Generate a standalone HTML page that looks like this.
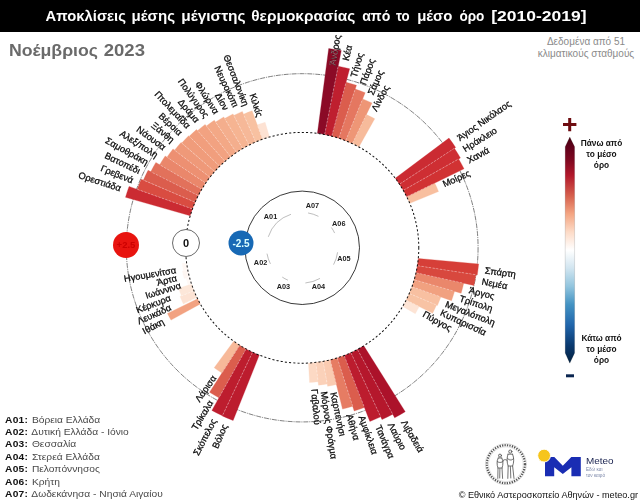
<!DOCTYPE html>
<html lang="el"><head><meta charset="utf-8"><title>Αποκλίσεις μέσης μέγιστης θερμοκρασίας</title>
<style>
html,body{margin:0;padding:0;background:#fff;}
body{width:640px;height:503px;position:relative;overflow:hidden;font-family:"Liberation Sans",sans-serif;}
#titlebar{position:absolute;left:0;top:0;width:640px;height:31.5px;background:#000;}
#title{position:absolute;left:45px;top:6.5px;color:#fff;font-weight:bold;font-size:14.7px;line-height:17px;white-space:nowrap;transform-origin:0 0;transform:scaleX(1.0836);}
#month{position:absolute;left:8.5px;top:39px;color:#6a6a6a;font-weight:bold;font-size:17.3px;line-height:20px;white-space:nowrap;transform-origin:0 0;transform:scaleX(1.043);}
#data,#legend,#footer{opacity:0.999;}
#data{position:absolute;left:530px;top:35.5px;width:112px;text-align:center;color:#8a8a8a;font-size:10px;line-height:12px;white-space:nowrap;}
#legend{position:absolute;left:5px;top:413.7px;font-size:9.6px;line-height:12.38px;color:#484848;white-space:nowrap;transform-origin:0 0;transform:scaleX(1.065);}
#legend b{color:#111;display:inline-block;width:22.6px;letter-spacing:0.25px;}
#footer{position:absolute;right:2px;top:489.3px;font-size:9.15px;line-height:12px;color:#111;white-space:nowrap;}
</style></head><body>
<div id="titlebar"></div>
<div id="data">Δεδομένα από 51<br>κλιματικούς σταθμούς</div>
<svg width="640" height="503" viewBox="0 0 640 503" style="position:absolute;left:0;top:0;opacity:0.999">
<g transform="translate(302.2 247.8) scale(1.005 0.995) translate(-302.2 -247.8)">
<circle cx="302.2" cy="247.8" r="175.0" fill="none" stroke="#3a3a3a" stroke-width="0.65" stroke-dasharray="5,0.9,1.1,0.9"/>
<circle cx="302.2" cy="247.8" r="57.0" fill="none" stroke="#222" stroke-width="0.9"/>
<path d="M269.64,136.46L265.32,121.68A131.40,131.40 0 0 0 257.47,124.25L262.72,138.73A116.00,116.00 0 0 1 269.64,136.46Z" fill="#fde2d3" stroke="#fde2d3" stroke-width="0.3"/>
<path d="M262.72,138.73L252.37,110.14A146.40,146.40 0 0 0 243.82,113.54L255.95,141.42A116.00,116.00 0 0 1 262.72,138.73Z" fill="#f8c1a1" stroke="#f8c1a1" stroke-width="0.3"/>
<path d="M255.95,141.42L242.63,110.79A149.40,149.40 0 0 0 234.14,114.80L249.36,144.54A116.00,116.00 0 0 1 255.95,141.42Z" fill="#f6b898" stroke="#f6b898" stroke-width="0.3"/>
<path d="M249.36,144.54L233.37,113.29A151.10,151.10 0 0 0 225.06,117.88L242.98,148.06A116.00,116.00 0 0 1 249.36,144.54Z" fill="#f6b492" stroke="#f6b492" stroke-width="0.3"/>
<path d="M242.98,148.06L224.14,116.33A152.90,152.90 0 0 0 216.04,121.49L236.83,151.97A116.00,116.00 0 0 1 242.98,148.06Z" fill="#f4ae8d" stroke="#f4ae8d" stroke-width="0.3"/>
<path d="M236.83,151.97L214.74,119.59A155.20,155.20 0 0 0 206.86,125.33L230.94,156.27A116.00,116.00 0 0 1 236.83,151.97Z" fill="#f3a886" stroke="#f3a886" stroke-width="0.3"/>
<path d="M230.94,156.27L205.63,123.76A157.20,157.20 0 0 0 198.04,130.06L225.34,160.92A116.00,116.00 0 0 1 230.94,156.27Z" fill="#f2a281" stroke="#f2a281" stroke-width="0.3"/>
<path d="M225.34,160.92L197.04,128.94A158.70,158.70 0 0 0 189.79,135.78L220.03,165.92A116.00,116.00 0 0 1 225.34,160.92Z" fill="#f19e7d" stroke="#f19e7d" stroke-width="0.3"/>
<path d="M220.03,165.92L189.22,135.21A159.50,159.50 0 0 0 182.37,142.53L215.05,171.24A116.00,116.00 0 0 1 220.03,165.92Z" fill="#f09c7b" stroke="#f09c7b" stroke-width="0.3"/>
<path d="M215.05,171.24L181.62,141.87A160.50,160.50 0 0 0 175.21,149.65L210.42,176.86A116.00,116.00 0 0 1 215.05,171.24Z" fill="#ef9979" stroke="#ef9979" stroke-width="0.3"/>
<path d="M210.42,176.86L173.63,148.43A162.50,162.50 0 0 0 167.64,156.70L206.15,182.77A116.00,116.00 0 0 1 210.42,176.86Z" fill="#ed9072" stroke="#ed9072" stroke-width="0.3"/>
<path d="M206.15,182.77L165.90,155.52A164.60,164.60 0 0 0 160.38,164.26L202.25,188.93A116.00,116.00 0 0 1 206.15,182.77Z" fill="#ea876b" stroke="#ea876b" stroke-width="0.3"/>
<path d="M202.25,188.93L156.58,162.03A169.00,169.00 0 0 0 151.49,171.34L198.75,195.32A116.00,116.00 0 0 1 202.25,188.93Z" fill="#e2715b" stroke="#e2715b" stroke-width="0.3"/>
<path d="M198.75,195.32L148.81,169.98A172.00,172.00 0 0 0 144.23,179.77L195.66,201.92A116.00,116.00 0 0 1 198.75,195.32Z" fill="#db5d4d" stroke="#db5d4d" stroke-width="0.3"/>
<path d="M195.66,201.92L142.02,178.82A174.40,174.40 0 0 0 138.01,189.01L192.99,208.70A116.00,116.00 0 0 1 195.66,201.92Z" fill="#d94c41" stroke="#d94c41" stroke-width="0.3"/>
<path d="M192.99,208.70L129.91,186.11A183.00,183.00 0 0 0 126.38,197.05L190.75,215.63A116.00,116.00 0 0 1 192.99,208.70Z" fill="#cb2b32" stroke="#cb2b32" stroke-width="0.3"/>
<path d="M187.19,262.94L182.73,263.53A120.50,120.50 0 0 0 183.95,271.00L188.37,270.13A116.00,116.00 0 0 1 187.19,262.94Z" fill="#fff8f4" stroke="#fff8f4" stroke-width="0.3"/>
<path d="M188.37,270.13L182.97,271.19A121.50,121.50 0 0 0 184.68,278.63L190.00,277.24A116.00,116.00 0 0 1 188.37,270.13Z" fill="#fef6f2" stroke="#fef6f2" stroke-width="0.3"/>
<path d="M190.00,277.24L186.61,278.12A119.50,119.50 0 0 0 188.74,285.32L192.07,284.22A116.00,116.00 0 0 1 190.00,277.24Z" fill="#fff9f6" stroke="#fff9f6" stroke-width="0.3"/>
<path d="M192.07,284.22L179.25,288.46A129.50,129.50 0 0 0 182.05,296.10L194.57,291.07A116.00,116.00 0 0 1 192.07,284.22Z" fill="#fde7d9" stroke="#fde7d9" stroke-width="0.3"/>
<path d="M194.57,291.07L180.65,296.66A131.00,131.00 0 0 0 183.96,304.20L197.50,297.74A116.00,116.00 0 0 1 194.57,291.07Z" fill="#fde3d4" stroke="#fde3d4" stroke-width="0.3"/>
<path d="M198.12,299.01L168.15,313.76A149.40,149.40 0 0 0 171.66,320.46L200.84,304.21A116.00,116.00 0 0 1 198.12,299.01Z" fill="#f2a281" stroke="#f2a281" stroke-width="0.3"/>
<path d="M234.02,341.65L214.62,368.34A149.00,149.00 0 0 0 222.36,373.60L240.04,345.74A116.00,116.00 0 0 1 234.02,341.65Z" fill="#f7b999" stroke="#f7b999" stroke-width="0.3"/>
<path d="M240.04,345.74L210.04,393.02A172.00,172.00 0 0 0 219.34,398.52L246.32,349.45A116.00,116.00 0 0 1 240.04,345.74Z" fill="#db5d4d" stroke="#db5d4d" stroke-width="0.3"/>
<path d="M246.32,349.45L212.35,411.23A186.50,186.50 0 0 0 222.79,416.55L252.81,352.76A116.00,116.00 0 0 1 246.32,349.45Z" fill="#bd1d2e" stroke="#bd1d2e" stroke-width="0.3"/>
<path d="M252.81,352.76L222.71,416.73A186.70,186.70 0 0 0 233.47,421.39L259.50,355.65A116.00,116.00 0 0 1 252.81,352.76Z" fill="#bc1c2e" stroke="#bc1c2e" stroke-width="0.3"/>
<path d="M308.47,363.63L309.53,383.10A135.50,135.50 0 0 0 318.01,382.37L315.73,363.01A116.00,116.00 0 0 1 308.47,363.63Z" fill="#fcd9c4" stroke="#fcd9c4" stroke-width="0.3"/>
<path d="M315.73,363.01L318.42,385.85A139.00,139.00 0 0 0 327.05,384.56L322.94,361.93A116.00,116.00 0 0 1 315.73,363.01Z" fill="#fbd1b9" stroke="#fbd1b9" stroke-width="0.3"/>
<path d="M322.94,361.93L327.50,387.02A141.50,141.50 0 0 0 336.19,385.16L330.07,360.40A116.00,116.00 0 0 1 322.94,361.93Z" fill="#facbb1" stroke="#facbb1" stroke-width="0.3"/>
<path d="M330.07,360.40L342.32,409.91A167.00,167.00 0 0 0 352.42,407.07L337.08,358.43A116.00,116.00 0 0 1 330.07,360.40Z" fill="#e67c63" stroke="#e67c63" stroke-width="0.3"/>
<path d="M337.08,358.43L353.92,411.84A172.00,172.00 0 0 0 364.12,408.27L343.96,356.02A116.00,116.00 0 0 1 337.08,358.43Z" fill="#db5d4d" stroke="#db5d4d" stroke-width="0.3"/>
<path d="M343.96,356.02L369.52,422.26A187.00,187.00 0 0 0 380.34,417.69L350.67,353.19A116.00,116.00 0 0 1 343.96,356.02Z" fill="#bc1c2e" stroke="#bc1c2e" stroke-width="0.3"/>
<path d="M350.67,353.19L381.59,420.42A190.00,190.00 0 0 0 392.28,415.09L357.19,349.94A116.00,116.00 0 0 1 350.67,353.19Z" fill="#b5172c" stroke="#b5172c" stroke-width="0.3"/>
<path d="M357.19,349.94L394.17,418.61A194.00,194.00 0 0 0 404.72,412.50L363.50,346.28A116.00,116.00 0 0 1 357.19,349.94Z" fill="#ac122a" stroke="#ac122a" stroke-width="0.3"/>
<path d="M402.15,306.67L414.73,314.08A130.60,130.60 0 0 0 418.67,306.89L405.65,300.28A116.00,116.00 0 0 1 402.15,306.67Z" fill="#fde4d5" stroke="#fde4d5" stroke-width="0.3"/>
<path d="M405.65,300.28L431.96,313.63A145.50,145.50 0 0 0 435.83,305.35L408.74,293.68A116.00,116.00 0 0 1 405.65,300.28Z" fill="#f8c3a4" stroke="#f8c3a4" stroke-width="0.3"/>
<path d="M408.74,293.68L436.75,305.75A146.50,146.50 0 0 0 440.13,297.18L411.41,286.90A116.00,116.00 0 0 1 408.74,293.68Z" fill="#f8c0a1" stroke="#f8c0a1" stroke-width="0.3"/>
<path d="M411.41,286.90L450.76,300.99A157.80,157.80 0 0 0 453.81,291.56L413.65,279.97A116.00,116.00 0 0 1 411.41,286.90Z" fill="#f1a180" stroke="#f1a180" stroke-width="0.3"/>
<path d="M413.65,279.97L460.34,293.45A164.60,164.60 0 0 0 462.90,283.43L415.45,272.91A116.00,116.00 0 0 1 413.65,279.97Z" fill="#ea876b" stroke="#ea876b" stroke-width="0.3"/>
<path d="M415.45,272.91L473.05,285.68A175.00,175.00 0 0 0 475.09,274.87L416.80,265.75A116.00,116.00 0 0 1 415.45,272.91Z" fill="#d8483e" stroke="#d8483e" stroke-width="0.3"/>
<path d="M416.80,265.75L476.38,275.08A176.30,176.30 0 0 0 477.75,264.08L417.70,258.51A116.00,116.00 0 0 1 416.80,265.75Z" fill="#d63f38" stroke="#d63f38" stroke-width="0.3"/>
<path d="M409.25,203.13L437.86,191.19A147.00,147.00 0 0 0 434.04,182.78L406.24,196.49A116.00,116.00 0 0 1 409.25,203.13Z" fill="#f8bf9f" stroke="#f8bf9f" stroke-width="0.3"/>
<path d="M406.24,196.49L463.19,168.41A179.50,179.50 0 0 0 457.89,158.46L402.81,190.06A116.00,116.00 0 0 1 406.24,196.49Z" fill="#d13233" stroke="#d13233" stroke-width="0.3"/>
<path d="M402.81,190.06L459.62,157.46A181.50,181.50 0 0 0 453.64,147.76L398.99,183.86A116.00,116.00 0 0 1 402.81,190.06Z" fill="#ce2e33" stroke="#ce2e33" stroke-width="0.3"/>
<path d="M398.99,183.86L454.89,146.93A183.00,183.00 0 0 0 448.25,137.54L394.78,177.91A116.00,116.00 0 0 1 398.99,183.86Z" fill="#cb2b32" stroke="#cb2b32" stroke-width="0.3"/>
<path d="M358.61,146.44L374.37,118.13A148.40,148.40 0 0 0 366.09,113.86L352.14,143.10A116.00,116.00 0 0 1 358.61,146.44Z" fill="#f7bb9b" stroke="#f7bb9b" stroke-width="0.3"/>
<path d="M352.14,143.10L371.64,102.21A161.30,161.30 0 0 0 362.36,98.14L345.47,140.17A116.00,116.00 0 0 1 352.14,143.10Z" fill="#ee9676" stroke="#ee9676" stroke-width="0.3"/>
<path d="M345.47,140.17L364.86,91.92A168.00,168.00 0 0 0 354.95,88.30L338.62,137.67A116.00,116.00 0 0 1 345.47,140.17Z" fill="#e57760" stroke="#e57760" stroke-width="0.3"/>
<path d="M338.62,137.67L356.21,84.50A172.00,172.00 0 0 0 345.85,81.43L331.64,135.60A116.00,116.00 0 0 1 338.62,137.67Z" fill="#db5d4d" stroke="#db5d4d" stroke-width="0.3"/>
<path d="M331.64,135.60L349.40,67.89A186.00,186.00 0 0 0 338.01,65.28L324.53,133.97A116.00,116.00 0 0 1 331.64,135.60Z" fill="#bf1f2f" stroke="#bf1f2f" stroke-width="0.3"/>
<path d="M324.53,133.97L341.09,49.58A202.00,202.00 0 0 0 328.57,47.53L317.34,132.79A116.00,116.00 0 0 1 324.53,133.97Z" fill="#8b0a26" stroke="#8b0a26" stroke-width="0.3"/>
<g stroke="#fff" stroke-opacity="0.5" stroke-width="0.7" stroke-dasharray="2.2,1.5" fill="none">
<path d="M262.55,138.26L257.64,124.72"/>
<path d="M255.75,140.96L244.02,114.00"/>
<path d="M249.13,144.09L234.37,115.25"/>
<path d="M242.72,147.63L225.31,118.31"/>
<path d="M236.55,151.56L216.32,121.90"/>
<path d="M230.64,155.87L207.17,125.73"/>
<path d="M225.00,160.55L198.37,130.44"/>
<path d="M219.68,165.57L190.14,136.13"/>
<path d="M214.68,170.91L182.75,142.86"/>
<path d="M210.02,176.56L175.60,149.96"/>
<path d="M205.73,182.49L168.05,156.98"/>
<path d="M201.82,188.67L160.81,164.51"/>
<path d="M198.31,195.09L151.93,171.56"/>
<path d="M195.20,201.72L144.69,179.96"/>
<path d="M192.52,208.53L138.48,189.18"/>
<path d="M187.88,270.23L184.44,270.90"/>
<path d="M189.51,277.36L187.10,278.00"/>
<path d="M191.59,284.38L189.22,285.17"/>
<path d="M194.11,291.25L182.51,295.92"/>
<path d="M197.05,297.95L184.41,303.98"/>
<path d="M239.78,346.16L222.63,373.18"/>
<path d="M246.08,349.89L219.58,398.09"/>
<path d="M252.60,353.21L223.01,416.10"/>
<path d="M315.79,363.50L317.95,381.88"/>
<path d="M323.03,362.42L326.96,384.07"/>
<path d="M330.19,360.89L336.07,384.67"/>
<path d="M337.23,358.91L352.27,406.59"/>
<path d="M344.14,356.49L363.94,407.80"/>
<path d="M350.88,353.64L380.13,417.24"/>
<path d="M357.43,350.38L392.04,414.65"/>
<path d="M406.09,300.51L418.22,306.66"/>
<path d="M409.20,293.88L435.37,305.15"/>
<path d="M411.88,287.07L439.65,297.02"/>
<path d="M414.13,280.11L453.33,291.42"/>
<path d="M415.94,273.02L462.41,283.32"/>
<path d="M417.30,265.82L474.60,274.80"/>
<path d="M406.69,196.27L433.59,183.00"/>
<path d="M403.24,189.81L457.45,158.71"/>
<path d="M399.40,183.58L453.22,148.03"/>
<path d="M352.35,142.65L365.87,114.31"/>
<path d="M345.65,139.71L362.18,98.60"/>
<path d="M338.78,137.19L354.79,88.77"/>
<path d="M331.76,135.11L345.72,81.91"/>
<path d="M324.63,133.48L337.91,65.77"/>
</g>
<circle cx="302.2" cy="247.8" r="116.0" fill="none" stroke="#111" stroke-width="1.0" stroke-dasharray="2.1,2.1"/>
<g font-family="Liberation Sans, sans-serif" font-size="9.3" fill="#0a0a0a" stroke="#0a0a0a" stroke-width="0.28" style="opacity:0.995">
<text x="260.12" y="115.95" transform="rotate(72.30 260.12 115.95)" text-anchor="end" dy="0.35em">Κιλκίς</text>
<text x="246.48" y="104.88" transform="rotate(68.70 246.48 104.88)" text-anchor="end" dy="0.35em">Θεσσαλονίκη</text>
<text x="236.35" y="105.94" transform="rotate(65.10 236.35 105.94)" text-anchor="end" dy="0.35em">Νευροκόπι</text>
<text x="226.76" y="108.86" transform="rotate(61.50 226.76 108.86)" text-anchor="end" dy="0.35em">Δίον</text>
<text x="217.23" y="112.35" transform="rotate(57.90 217.23 112.35)" text-anchor="end" dy="0.35em">Φλώρινα</text>
<text x="207.55" y="116.08" transform="rotate(54.30 207.55 116.08)" text-anchor="end" dy="0.35em">Πολύγυρος</text>
<text x="198.20" y="120.74" transform="rotate(50.70 198.20 120.74)" text-anchor="end" dy="0.35em">Δράμα</text>
<text x="189.40" y="126.42" transform="rotate(47.10 189.40 126.42)" text-anchor="end" dy="0.35em">Πτολεμαΐδα</text>
<text x="181.43" y="133.19" transform="rotate(43.50 181.43 133.19)" text-anchor="end" dy="0.35em">Βέροια</text>
<text x="173.70" y="140.36" transform="rotate(39.90 173.70 140.36)" text-anchor="end" dy="0.35em">Ξάνθη</text>
<text x="165.60" y="147.45" transform="rotate(36.30 165.60 147.45)" text-anchor="end" dy="0.35em">Νάουσα</text>
<text x="157.80" y="155.09" transform="rotate(32.70 157.80 155.09)" text-anchor="end" dy="0.35em">Αλεξ/πολη</text>
<text x="148.42" y="162.20" transform="rotate(29.10 148.42 162.20)" text-anchor="end" dy="0.35em">Σαμοθράκη</text>
<text x="140.64" y="170.74" transform="rotate(25.50 140.64 170.74)" text-anchor="end" dy="0.35em">Βατοπέδι</text>
<text x="133.89" y="180.14" transform="rotate(21.90 133.89 180.14)" text-anchor="end" dy="0.35em">Γρεβενά</text>
<text x="121.81" y="188.14" transform="rotate(18.30 121.81 188.14)" text-anchor="end" dy="0.35em">Ορεστιάδα</text>
<text x="176.64" y="269.94" transform="rotate(-10.00 176.64 269.94)" text-anchor="end" dy="0.35em">Ηγουμενίτσα</text>
<text x="177.30" y="278.02" transform="rotate(-13.60 177.30 278.02)" text-anchor="end" dy="0.35em">Άρτα</text>
<text x="181.36" y="285.21" transform="rotate(-17.20 181.36 285.21)" text-anchor="end" dy="0.35em">Ιωάννινα</text>
<text x="170.95" y="297.66" transform="rotate(-20.80 170.95 297.66)" text-anchor="end" dy="0.35em">Κέρκυρα</text>
<text x="171.24" y="307.20" transform="rotate(-24.40 171.24 307.20)" text-anchor="end" dy="0.35em">Λευκάδα</text>
<text x="164.11" y="321.23" transform="rotate(-28.00 164.11 321.23)" text-anchor="end" dy="0.35em">Ιθάκη</text>
<text x="214.51" y="376.82" transform="rotate(-55.80 214.51 376.82)" text-anchor="end" dy="0.35em">Λάρισα</text>
<text x="211.08" y="401.87" transform="rotate(-59.40 211.08 401.87)" text-anchor="end" dy="0.35em">Τρίκαλα</text>
<text x="214.35" y="420.21" transform="rotate(-63.00 214.35 420.21)" text-anchor="end" dy="0.35em">Σκόπελος</text>
<text x="225.27" y="425.57" transform="rotate(-66.60 225.27 425.57)" text-anchor="end" dy="0.35em">Βόλος</text>
<text x="314.37" y="389.78" transform="rotate(-274.90 314.37 389.78)" text-anchor="start" dy="0.35em">Γαβαλού</text>
<text x="323.78" y="392.20" transform="rotate(-278.50 323.78 392.20)" text-anchor="start" dy="0.35em">Μόρνος Φράγμα</text>
<text x="333.33" y="393.00" transform="rotate(-282.10 333.33 393.00)" text-anchor="start" dy="0.35em">Καρπενήσι</text>
<text x="349.28" y="415.31" transform="rotate(-285.70 349.28 415.31)" text-anchor="start" dy="0.35em">Αθήνα</text>
<text x="361.36" y="416.74" transform="rotate(-289.30 361.36 416.74)" text-anchor="start" dy="0.35em">Αμφίκλεια</text>
<text x="377.69" y="426.51" transform="rotate(-292.90 377.69 426.51)" text-anchor="start" dy="0.35em">Τανάγρα</text>
<text x="390.10" y="424.10" transform="rotate(-296.50 390.10 424.10)" text-anchor="start" dy="0.35em">Λαύριο</text>
<text x="403.00" y="421.70" transform="rotate(-300.10 403.00 421.70)" text-anchor="start" dy="0.35em">Λιβαδειά</text>
<text x="422.90" y="313.88" transform="rotate(-331.30 422.90 313.88)" text-anchor="start" dy="0.35em">Πύργος</text>
<text x="440.30" y="312.49" transform="rotate(-334.90 440.30 312.49)" text-anchor="start" dy="0.35em">Κυπαρισσία</text>
<text x="445.02" y="304.06" transform="rotate(-338.50 445.02 304.06)" text-anchor="start" dy="0.35em">Μεγαλόπολη</text>
<text x="459.02" y="298.45" transform="rotate(-342.10 459.02 298.45)" text-anchor="start" dy="0.35em">Τρίπολη</text>
<text x="468.48" y="290.19" transform="rotate(-345.70 468.48 290.19)" text-anchor="start" dy="0.35em">Άργος</text>
<text x="481.04" y="281.59" transform="rotate(-349.30 481.04 281.59)" text-anchor="start" dy="0.35em">Νεμέα</text>
<text x="484.09" y="270.46" transform="rotate(-352.90 484.09 270.46)" text-anchor="start" dy="0.35em">Σπάρτη</text>
<text x="442.39" y="184.06" transform="rotate(-24.45 442.39 184.06)" text-anchor="start" dy="0.35em">Μοίρες</text>
<text x="466.79" y="160.10" transform="rotate(-28.05 466.79 160.10)" text-anchor="start" dy="0.35em">Χανιά</text>
<text x="462.66" y="148.89" transform="rotate(-31.65 462.66 148.89)" text-anchor="start" dy="0.35em">Ηράκλειο</text>
<text x="457.36" y="138.14" transform="rotate(-35.25 457.36 138.14)" text-anchor="start" dy="0.35em">Άγιος Νικόλαος</text>
<text x="373.47" y="109.71" transform="rotate(-62.70 373.47 109.71)" text-anchor="start" dy="0.35em">Λίνδος</text>
<text x="369.85" y="93.69" transform="rotate(-66.30 369.85 93.69)" text-anchor="start" dy="0.35em">Σάμος</text>
<text x="362.34" y="83.46" transform="rotate(-69.90 362.34 83.46)" text-anchor="start" dy="0.35em">Πάρος</text>
<text x="353.04" y="76.17" transform="rotate(-73.50 353.04 76.17)" text-anchor="start" dy="0.35em">Τήνος</text>
<text x="345.29" y="59.67" transform="rotate(-77.10 345.29 59.67)" text-anchor="start" dy="0.35em">Κέα</text>
<text x="332.26" y="64.24" transform="rotate(-80.70 332.26 64.24)" text-anchor="start" dy="0.35em"><tspan fill="#e7a7b0">Άνδ</tspan>ρος</text>
</g>
<g font-family="Liberation Sans, sans-serif" font-size="7.3" font-weight="bold" fill="#222" text-anchor="middle">
<path d="M291.05,214.10A35.50,35.50 0 0 0 268.46,236.77" fill="none" stroke="#888" stroke-width="0.55"/>
<text x="270.70" y="216.20" dy="0.35em">A01</text>
<path d="M267.19,253.66A35.50,35.50 0 0 0 270.60,263.97" fill="none" stroke="#888" stroke-width="0.55"/>
<text x="260.80" y="262.40" dy="0.35em">A02</text>
<path d="M282.35,277.23A35.50,35.50 0 0 0 287.99,280.33" fill="none" stroke="#888" stroke-width="0.55"/>
<text x="283.50" y="286.20" dy="0.35em">A03</text>
<path d="M305.36,283.16A35.50,35.50 0 0 0 319.90,278.57" fill="none" stroke="#888" stroke-width="0.55"/>
<text x="318.30" y="287.10" dy="0.35em">A04</text>
<path d="M333.40,264.74A35.50,35.50 0 0 0 337.41,252.31" fill="none" stroke="#888" stroke-width="0.55"/>
<text x="343.70" y="258.50" dy="0.35em">A05</text>
<path d="M334.46,232.99A35.50,35.50 0 0 0 331.26,227.41" fill="none" stroke="#888" stroke-width="0.55"/>
<text x="338.60" y="223.60" dy="0.35em">A06</text>
<path d="M318.37,216.20A35.50,35.50 0 0 0 308.06,212.79" fill="none" stroke="#888" stroke-width="0.55"/>
<text x="312.40" y="205.20" dy="0.35em">A07</text>
</g>
</g>
<circle cx="126" cy="245" r="13" fill="#e8140f"/>
<text x="126" y="245" dy="0.36em" text-anchor="middle" font-family="Liberation Sans, sans-serif" font-size="9.5" font-weight="bold" fill="#c00">+2.5</text>
<circle cx="186" cy="243" r="13.5" fill="#fff" stroke="#444" stroke-width="0.8"/>
<text x="186" y="243" dy="0.36em" text-anchor="middle" font-family="Liberation Sans, sans-serif" font-size="11" font-weight="bold" fill="#111">0</text>
<circle cx="241" cy="243" r="12.5" fill="#1769b5"/>
<text x="241" y="243" dy="0.36em" text-anchor="middle" font-family="Liberation Sans, sans-serif" font-size="10" font-weight="bold" fill="#dff">-2.5</text>
<defs><linearGradient id="cb" x1="0" y1="0" x2="0" y2="1">
<stop offset="0.000" stop-color="#45000f"/>
<stop offset="0.040" stop-color="#5e001a"/>
<stop offset="0.100" stop-color="#7d0820"/>
<stop offset="0.170" stop-color="#b2182b"/>
<stop offset="0.260" stop-color="#d6604d"/>
<stop offset="0.340" stop-color="#f4a582"/>
<stop offset="0.420" stop-color="#fddbc7"/>
<stop offset="0.500" stop-color="#ffffff"/>
<stop offset="0.580" stop-color="#d1e5f0"/>
<stop offset="0.660" stop-color="#92c5de"/>
<stop offset="0.740" stop-color="#4393c3"/>
<stop offset="0.830" stop-color="#2166ac"/>
<stop offset="0.920" stop-color="#0a3a70"/>
<stop offset="1.000" stop-color="#03203f"/>
</linearGradient></defs>
<path d="M569.8,137 L574.6,146.7 L574.6,353 L569.8,363.3 L565.2,353 L565.2,146.7 Z" fill="url(#cb)" stroke="#000" stroke-opacity="0.22" stroke-width="0.6"/>
<path d="M563,124.6 H576.4 M569.7,117.9 V131.3" stroke="#6e0c10" stroke-width="3" fill="none"/>
<path d="M566,375.8 H574" stroke="#0a2550" stroke-width="3" fill="none"/>
<g font-family="Liberation Sans, sans-serif" font-size="8.3" font-weight="bold" fill="#111" text-anchor="middle">
<text x="601.5" y="143" dy="0.35em">Πάνω από</text>
<text x="601.5" y="154.2" dy="0.35em">το μέσο</text>
<text x="601.5" y="164.6" dy="0.35em">όρο</text>
<text x="601.5" y="338.5" dy="0.35em">Κάτω από</text>
<text x="601.5" y="349.3" dy="0.35em">το μέσο</text>
<text x="601.5" y="359.7" dy="0.35em">όρο</text>
</g>
<g font-family="Liberation Sans, sans-serif" font-size="14.7" font-weight="bold" fill="#fff">
<text x="45.6" y="20.6" textLength="80.30" lengthAdjust="spacingAndGlyphs">Αποκλίσεις</text>
<text x="131.6" y="20.6" textLength="43.40" lengthAdjust="spacingAndGlyphs">μέσης</text>
<text x="181.25" y="20.6" textLength="64.35" lengthAdjust="spacingAndGlyphs">μέγιστης</text>
<text x="251.25" y="20.6" textLength="104.05" lengthAdjust="spacingAndGlyphs">θερμοκρασίας</text>
<text x="362.2" y="20.6" textLength="28.10" lengthAdjust="spacingAndGlyphs">από</text>
<text x="395.9" y="20.6" textLength="13.70" lengthAdjust="spacingAndGlyphs">το</text>
<text x="417.2" y="20.6" textLength="35.30" lengthAdjust="spacingAndGlyphs">μέσο</text>
<text x="459.4" y="20.6" textLength="25.00" lengthAdjust="spacingAndGlyphs">όρο</text>
<text x="491.25" y="20.6" textLength="95.35" lengthAdjust="spacingAndGlyphs">[2010-2019]</text>
</g>
<g font-family="Liberation Sans, sans-serif" font-size="17.3" font-weight="bold" fill="#6a6a6a">
<text x="9" y="55.6" textLength="89" lengthAdjust="spacingAndGlyphs">Νοέμβριος</text>
<text x="103.75" y="55.6" textLength="41.25" lengthAdjust="spacingAndGlyphs">2023</text>
</g>
<g fill="none" stroke="#4a4a4a" stroke-linecap="round">
<circle cx="505.9" cy="464.2" r="19.0" stroke="#555" stroke-width="2.2" stroke-dasharray="1.3,1.2" stroke-linecap="butt"/>
<circle cx="505.9" cy="464.2" r="20.5" stroke="#999" stroke-width="0.35"/>
<circle cx="505.9" cy="464.2" r="17.4" stroke="#aaa" stroke-width="0.35"/>
<g stroke-width="0.8" stroke="#505050" fill="#ddd" fill-opacity="0.5">
<circle cx="500" cy="455.6" r="1.5"/>
<path d="M498.2,458 C496.6,461 496.8,465 498,468 L497.8,478.4 M501.8,458 C503.4,461 503.2,465 502,468 L502.6,478.4 M498.2,458 H501.8 M498,468 H502 M499.9,468.5 L499.7,478 M497.2,461.5 C499,463 501.5,463 503.5,461"/>
<circle cx="510.3" cy="451.6" r="1.6"/>
<path d="M508,454.2 C506.6,458 506.8,462.5 508.2,466 L507.8,478.4 M512.6,454.2 C514.2,458 514,462.5 512.6,466 L514,478.4 M508,454.2 H512.6 M508.2,466 H512.6 M510.4,466.5 L510.8,478 M503.4,460.2 C505,459.2 506,459.4 507.2,460.6 M507.6,458.5 C509.5,460.6 511.8,460.6 513.6,458.6"/>
</g></g>
<path d="M545,457 H554.3 L562.8,465.8 L571.3,457 H580.8 V476.3 H571.4 V467.2 L562.8,474 L554.2,467.2 V476.3 H545 Z" fill="#1a2db3"/>
<circle cx="544.1" cy="455.6" r="6.4" fill="#f6c51c" stroke="#fff" stroke-width="0.9"/>
<text x="586" y="463.5" font-family="Liberation Sans, sans-serif" font-size="9.6" fill="#1a2350" textLength="27.5" lengthAdjust="spacingAndGlyphs">Meteo</text>
<text x="586" y="471.3" font-family="Liberation Sans, sans-serif" font-size="4.6" fill="#7a86a8">Εδώ και</text>
<text x="586" y="476.8" font-family="Liberation Sans, sans-serif" font-size="4.6" fill="#7a86a8">τον καιρό</text>
</svg>
<div id="legend"><b>A01:</b> Βόρεια Ελλάδα<br><b>A02:</b> Δυτική Ελλάδα - Ιόνιο<br><b>A03:</b> Θεσσαλία<br><b>A04:</b> Στερεά Ελλάδα<br><b>A05:</b> Πελοπόννησος<br><b>A06:</b> Κρήτη<br><b>A07:</b> Δωδεκάνησα - Νησιά Αιγαίου</div>
<div id="footer">© Εθνικό Αστεροσκοπείο Αθηνών - meteo.gr</div>
</body></html>
